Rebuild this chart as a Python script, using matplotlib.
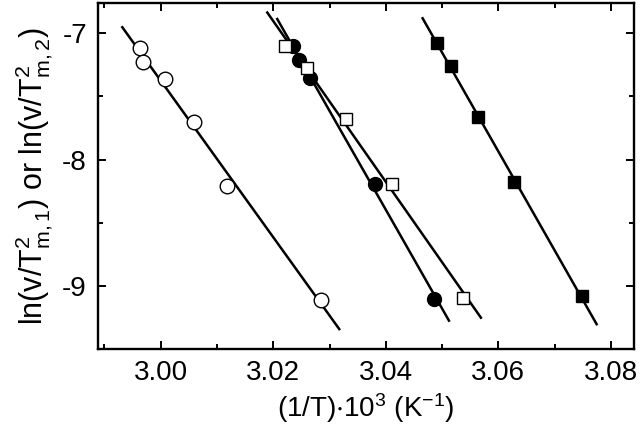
import numpy as np
import matplotlib
matplotlib.use("Agg")
import matplotlib.pyplot as plt
from matplotlib.ticker import MultipleLocator

plt.rcParams['font.family'] = ['Liberation Sans', 'DejaVu Sans']
plt.rcParams['mathtext.fontset'] = 'custom'
plt.rcParams['mathtext.rm'] = 'Liberation Sans'
plt.rcParams['mathtext.it'] = 'Liberation Sans'
plt.rcParams['mathtext.default'] = 'regular'

# Data (1/T * 10^3 in K^-1, ln values)
open_circle_x = [2.99632, 2.99680, 3.00076, 3.00597, 3.01172, 3.02848]
open_circle_y = [-7.119, -7.230, -7.364, -7.700, -8.209, -9.110]
open_circle_line_x = [2.99318, 3.03173]

filled_circle_x = [3.02345, 3.02462, 3.02652, 3.03807, 3.04861]
filled_circle_y = [-7.098, -7.213, -7.350, -8.191, -9.101]
filled_circle_line_x = [3.02071, 3.05122]

open_square_x = [3.02208, 3.02608, 3.03288, 3.04109, 3.05370]
open_square_y = [-7.098, -7.277, -7.679, -8.191, -9.098]
open_square_line_x = [3.01894, 3.05690]

filled_square_x = [3.04914, 3.05157, 3.05637, 3.06277, 3.07479]
filled_square_y = [-7.079, -7.259, -7.665, -8.175, -9.080]
filled_square_line_x = [3.04654, 3.07746]

x_ticks = [3.00, 3.02, 3.04, 3.06, 3.08]
x_tick_labels = ["3.00", "3.02", "3.04", "3.06", "3.08"]
y_ticks = [-7, -8, -9]
y_tick_labels = ["-7", "-8", "-9"]

fig = plt.figure(figsize=(6.4, 4.33), dpi=100)
ax = fig.add_axes([98/640, 1-349/433, (634-98)/640, (349-3)/433])

series = [
    (open_circle_x, open_circle_y, open_circle_line_x, 'o', 'white', 10.5),
    (filled_circle_x, filled_circle_y, filled_circle_line_x, 'o', 'black', 10),
    (open_square_x, open_square_y, open_square_line_x, 's', 'white', 9),
    (filled_square_x, filled_square_y, filled_square_line_x, 's', 'black', 9),
]
for xs, ys, lx, m, fc, ms in series:
    k, b = np.polyfit(xs, ys, 1)
    lx = np.array(lx)
    ax.plot(lx, k * lx + b, color='black', lw=1.8, zorder=2)
    ax.plot(xs, ys, linestyle='none', marker=m, markersize=ms,
            markerfacecolor=fc, markeredgecolor='black', markeredgewidth=1.0, zorder=3)

ax.set_xlim(2.98886, 3.0841)
ax.set_ylim(-9.5, -6.76)
ax.set_xticks(x_ticks)
ax.set_xticklabels(x_tick_labels)
ax.set_yticks(y_ticks)
ax.set_yticklabels(y_tick_labels)
ax.xaxis.set_minor_locator(MultipleLocator(0.01))
ax.yaxis.set_minor_locator(MultipleLocator(0.5))
ax.tick_params(which='both', direction='in', top=True, right=True, width=1.4,
               labelsize=20, pad=8)
ax.tick_params(which='major', length=6)
ax.tick_params(which='minor', length=3.5)
for s in ax.spines.values():
    s.set_linewidth(1.7)

ax.set_xlabel(r'(1/T)$\cdot$10$^3$ (K$^{-1}$)', fontsize=20, labelpad=4)
ax.set_ylabel(r'ln(v/T$_{m,1}^{2}$) or ln(v/T$_{m,2}^{2}$)', fontsize=22, labelpad=5)

fig.savefig('out.png', dpi=100)
